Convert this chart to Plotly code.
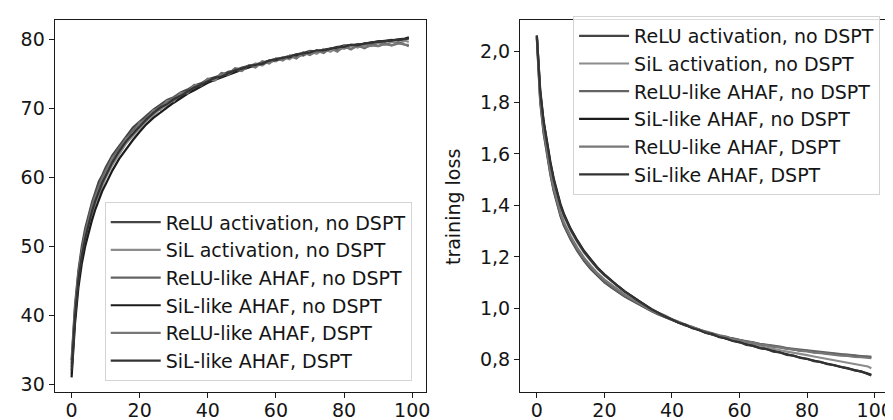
import plotly.graph_objects as go

epochs = [0, 1, 2, 3, 4, 5, 6, 7, 8, 9, 10] + list(range(12, 99, 2)) + [99]

series_names = [
    "ReLU activation, no DSPT",
    "SiL activation, no DSPT",
    "ReLU-like AHAF, no DSPT",
    "SiL-like AHAF, no DSPT",
    "ReLU-like AHAF, DSPT",
    "SiL-like AHAF, DSPT",
]
series_colors = ["#444444", "#8c8c8c", "#646464", "#1c1c1c", "#777777", "#333333"]

# test accuracy (left panel)
acc_relu = [33.5, 41.5, 46.5, 50.0, 52.6, 54.6, 56.4, 57.9, 59.4, 60.3, 61.4,
            63.2, 64.6, 65.9, 67.2, 68.1, 69.0, 69.8, 70.5, 71.2, 71.6,
            72.3, 72.7, 73.3, 73.6, 74.2, 74.5, 74.8, 75.3, 75.5, 75.9,
            76.1, 76.4, 76.6, 76.9, 77.1, 77.3, 77.6, 77.7, 78.0, 78.3,
            78.2, 78.5, 78.6, 78.8, 79.1, 79.0, 79.3, 79.2, 79.5, 79.6,
            79.7, 79.9, 79.8, 80.1, 80.2]
acc_sil = [31.5, 39.5, 44.8, 48.2, 50.8, 52.9, 54.7, 56.3, 57.6, 58.8, 59.9,
           61.8, 63.4, 64.9, 66.0, 67.1, 68.2, 69.0, 69.9, 70.4, 71.1,
           71.7, 72.4, 72.8, 73.4, 73.9, 74.2, 74.8, 75.0, 75.4, 75.6,
           75.9, 76.5, 76.2, 76.9, 76.8, 77.4, 77.1, 77.8, 77.6, 78.2,
           77.9, 78.6, 78.2, 78.8, 78.6, 79.1, 78.8, 79.3, 79.0, 79.5,
           79.2, 79.6, 79.4, 79.8, 79.6]
acc_relu_ahaf = [33.0, 41.0, 46.0, 49.4, 52.0, 54.2, 56.0, 57.5, 58.9, 60.0, 61.0,
                 62.8, 64.3, 65.6, 66.8, 67.8, 68.7, 69.6, 70.3, 70.9, 71.5,
                 72.2, 72.4, 73.4, 73.3, 74.3, 74.1, 75.1, 74.9, 75.8, 75.6,
                 76.2, 76.0, 76.8, 76.5, 77.2, 77.0, 77.6, 77.2, 78.1, 77.7,
                 78.4, 78.0, 78.7, 78.4, 78.9, 78.6, 79.1, 78.7, 79.3, 79.0,
                 79.4, 79.1, 79.5, 79.2, 79.0]
acc_sil_ahaf = [31.0, 38.8, 44.0, 47.5, 50.0, 52.0, 53.8, 55.4, 56.8, 58.0, 59.0,
                61.0, 62.7, 64.1, 65.4, 66.6, 67.7, 68.6, 69.4, 70.1, 70.8,
                71.5, 72.1, 72.6, 73.2, 73.7, 74.1, 74.5, 74.9, 75.3, 75.6,
                75.9, 76.2, 76.5, 76.7, 77.0, 77.2, 77.4, 77.7, 77.8, 78.1,
                78.3, 78.4, 78.7, 78.8, 79.0, 79.2, 79.2, 79.4, 79.5, 79.7,
                79.7, 79.9, 80.0, 80.1, 80.3]
acc_relu_ahaf_dspt = [32.5, 40.5, 45.6, 49.0, 51.6, 53.6, 55.5, 57.0, 58.4, 59.6, 60.6,
                      62.8, 63.7, 65.6, 66.2, 67.9, 68.3, 69.7, 69.8, 71.1, 71.0,
                      72.2, 72.2, 73.3, 73.3, 74.2, 74.0, 74.9, 74.9, 75.6, 75.4,
                      76.2, 75.9, 76.7, 76.5, 77.2, 76.9, 77.6, 77.3, 77.9, 77.8,
                      78.2, 78.1, 78.7, 78.2, 79.0, 78.5, 79.1, 78.8, 79.1, 79.0,
                      79.3, 79.1, 79.4, 79.2, 79.2]
acc_sil_ahaf_dspt = [32.0, 39.8, 45.2, 48.6, 51.2, 53.2, 55.1, 56.6, 58.0, 59.2, 60.2,
                     62.2, 63.8, 65.2, 66.3, 67.4, 68.4, 69.3, 70.1, 70.6, 71.3,
                     71.8, 72.4, 73.0, 73.4, 73.9, 74.4, 74.6, 75.1, 75.5, 75.7,
                     76.1, 76.3, 76.5, 76.9, 77.1, 77.2, 77.5, 77.8, 77.9, 78.1,
                     78.4, 78.4, 78.6, 78.9, 78.9, 79.2, 79.1, 79.4, 79.5, 79.6,
                     79.8, 79.8, 80.0, 80.1, 80.1]

# training loss (right panel)
loss_relu = [2.05, 1.80, 1.68, 1.59, 1.52, 1.455, 1.402, 1.358, 1.322, 1.293, 1.268,
             1.222, 1.184, 1.152, 1.125, 1.101, 1.082, 1.063, 1.046, 1.031, 1.016,
             1.001, 0.989, 0.976, 0.966, 0.953, 0.945, 0.934, 0.927, 0.916, 0.907,
             0.900, 0.894, 0.886, 0.883, 0.876, 0.871, 0.867, 0.860, 0.857, 0.853,
             0.849, 0.843, 0.841, 0.836, 0.835, 0.830, 0.829, 0.824, 0.823, 0.819,
             0.817, 0.816, 0.812, 0.812, 0.809]
loss_sil = [2.06, 1.84, 1.72, 1.63, 1.56, 1.495, 1.44, 1.395, 1.358, 1.328, 1.302,
            1.256, 1.216, 1.184, 1.153, 1.128, 1.106, 1.085, 1.064, 1.048, 1.030,
            1.012, 0.998, 0.983, 0.972, 0.958, 0.948, 0.936, 0.928, 0.917, 0.906,
            0.899, 0.890, 0.884, 0.876, 0.871, 0.864, 0.858, 0.852, 0.848, 0.842,
            0.837, 0.832, 0.828, 0.822, 0.818, 0.813, 0.808, 0.804, 0.800, 0.795,
            0.790, 0.786, 0.780, 0.774, 0.767]
loss_relu_ahaf = [2.05, 1.81, 1.69, 1.60, 1.525, 1.46, 1.408, 1.364, 1.328, 1.298, 1.272,
                  1.226, 1.188, 1.156, 1.128, 1.104, 1.085, 1.066, 1.048, 1.034, 1.018,
                  1.004, 0.990, 0.979, 0.966, 0.955, 0.944, 0.937, 0.925, 0.918, 0.909,
                  0.903, 0.895, 0.890, 0.882, 0.878, 0.872, 0.868, 0.862, 0.859, 0.854,
                  0.851, 0.846, 0.843, 0.838, 0.837, 0.832, 0.830, 0.827, 0.824, 0.822,
                  0.820, 0.817, 0.816, 0.812, 0.813]
loss_sil_ahaf = [2.06, 1.85, 1.73, 1.64, 1.57, 1.505, 1.45, 1.405, 1.368, 1.337, 1.31,
                 1.264, 1.223, 1.19, 1.158, 1.132, 1.108, 1.087, 1.066, 1.048, 1.030,
                 1.011, 0.996, 0.981, 0.968, 0.956, 0.945, 0.934, 0.924, 0.914, 0.906,
                 0.898, 0.889, 0.882, 0.874, 0.868, 0.860, 0.854, 0.846, 0.841, 0.834,
                 0.828, 0.821, 0.815, 0.809, 0.803, 0.797, 0.791, 0.785, 0.779, 0.774,
                 0.767, 0.761, 0.754, 0.747, 0.742]
loss_relu_ahaf_dspt = [2.06, 1.82, 1.70, 1.61, 1.535, 1.47, 1.415, 1.37, 1.335, 1.305, 1.28,
                       1.235, 1.196, 1.165, 1.136, 1.112, 1.092, 1.072, 1.054, 1.038, 1.021,
                       1.007, 0.991, 0.981, 0.967, 0.957, 0.945, 0.937, 0.926, 0.919, 0.905,
                       0.900, 0.892, 0.888, 0.880, 0.876, 0.869, 0.866, 0.859, 0.856, 0.850,
                       0.848, 0.842, 0.840, 0.835, 0.833, 0.828, 0.826, 0.822, 0.820, 0.816,
                       0.815, 0.811, 0.810, 0.807, 0.806]
loss_sil_ahaf_dspt = [2.06, 1.84, 1.725, 1.635, 1.565, 1.50, 1.446, 1.40, 1.363, 1.333, 1.306,
                      1.26, 1.22, 1.187, 1.156, 1.13, 1.107, 1.086, 1.066, 1.047, 1.029,
                      1.013, 0.995, 0.983, 0.967, 0.957, 0.944, 0.936, 0.923, 0.916, 0.904,
                      0.900, 0.888, 0.884, 0.873, 0.869, 0.858, 0.855, 0.845, 0.842, 0.832,
                      0.829, 0.819, 0.816, 0.807, 0.804, 0.795, 0.792, 0.783, 0.780, 0.772,
                      0.768, 0.759, 0.755, 0.745, 0.739]

acc_series = [acc_relu, acc_sil, acc_relu_ahaf, acc_sil_ahaf, acc_relu_ahaf_dspt, acc_sil_ahaf_dspt]
loss_series = [loss_relu, loss_sil, loss_relu_ahaf, loss_sil_ahaf, loss_relu_ahaf_dspt, loss_sil_ahaf_dspt]

x_ticks = [0, 20, 40, 60, 80, 100]
acc_ticks = [30, 40, 50, 60, 70, 80]
loss_ticks = [0.8, 1.0, 1.2, 1.4, 1.6, 1.8, 2.0]

W, H = 893, 420
FONT = "DejaVu Sans"
FS = 19
TXT = "#151515"

fig = go.Figure()
for i, (name, col) in enumerate(zip(series_names, series_colors)):
    fig.add_trace(go.Scatter(x=epochs, y=acc_series[i], mode="lines", name=name,
                             line=dict(color=col, width=2.2), xaxis="x", yaxis="y",
                             legend="legend", legendgroup="a%d" % i))
for i, (name, col) in enumerate(zip(series_names, series_colors)):
    fig.add_trace(go.Scatter(x=epochs, y=loss_series[i], mode="lines", name=name,
                             line=dict(color=col, width=2.2), xaxis="x2", yaxis="y2",
                             legend="legend2", legendgroup="l%d" % i))

axis_common = dict(showline=True, mirror=True, linecolor="#1a1a1a", linewidth=1.4,
                   ticks="outside", ticklen=5, tickwidth=1.2, tickcolor="#1a1a1a",
                   showgrid=False, zeroline=False,
                   tickfont=dict(family=FONT, size=FS, color=TXT))

legend_common = dict(font=dict(family=FONT, size=FS, color=TXT),
                     bgcolor="rgba(255,255,255,0.85)", bordercolor="#d4d4d4", borderwidth=1,
                     itemwidth=50, tracegroupgap=0, traceorder="grouped")

fig.update_layout(
    width=W, height=H,
    margin=dict(l=0, r=0, t=0, b=0),
    paper_bgcolor="white", plot_bgcolor="white",
    separators=", ",
    showlegend=True,
    xaxis=dict(domain=[47 / W, 420 / W], range=[-4.95, 103.95], tickvals=x_ticks,
               anchor="y", ticklabelstandoff=-4, **axis_common),
    yaxis=dict(domain=[1 - 387 / H, 1 - 12 / H], range=[28.85, 82.8], tickvals=acc_ticks,
               anchor="x", **axis_common),
    xaxis2=dict(domain=[515 / W, 885 / W], range=[-4.95, 103.95], tickvals=x_ticks,
                anchor="y2", ticklabelstandoff=-4, **axis_common),
    yaxis2=dict(domain=[1 - 387 / H, 1 - 12 / H], range=[0.674, 2.121], tickvals=loss_ticks,
                tickformat=".1f", anchor="x2", **axis_common),
    legend=dict(x=406 / W, y=1 - 376 / H, xanchor="right", yanchor="bottom", **legend_common),
    legend2=dict(x=877 / W, y=1 - 8 / H, xanchor="right", yanchor="top", **legend_common),
    annotations=[dict(text="training loss", xref="paper", yref="paper",
                      x=447 / W, y=1 - 200 / H, textangle=-90, showarrow=False,
                      font=dict(family=FONT, size=FS, color=TXT))],
)

fig.write_html("out.html")
